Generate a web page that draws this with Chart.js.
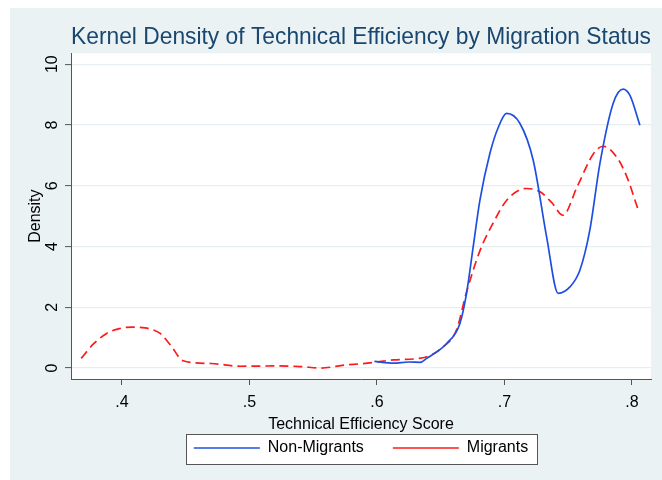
<!DOCTYPE html>
<html lang="en">
<head>
<meta charset="UTF-8">
<title>Kernel Density of Technical Efficiency by Migration Status</title>
<script src="https://cdn.jsdelivr.net/npm/chart.js"></script>
<style>
  html, body { margin: 0; padding: 0; background: #fff; overflow: hidden; }
  canvas { display: block; }
</style>
</head>
<body>
<canvas id="kdChart" width="662" height="480"></canvas>
<script>
// kernel density estimates
const nonMigrantScore = [0.598, 0.613, 0.625, 0.634, 0.639, 0.6547, 0.6651, 0.6703, 0.6755, 0.6808, 0.6886,
    0.695, 0.7017, 0.7122, 0.7226, 0.7331, 0.7422, 0.7514, 0.7592, 0.767, 0.7749, 0.7853, 0.7931, 0.7984, 0.8063];
const nonMigrantDensity = [0.22, 0.16, 0.20, 0.19, 0.32, 0.81, 1.47, 2.46, 3.99, 5.53, 7.06,
    7.9, 8.38, 8.05, 6.84, 4.32, 2.46, 2.67, 3.22, 4.54, 6.73, 8.71, 9.18, 8.98, 7.99];

const migrantScore = [0.368, 0.378, 0.388, 0.398, 0.408, 0.418, 0.425, 0.430, 0.438, 0.448, 0.47, 0.493,
    0.52, 0.54, 0.556, 0.575, 0.587, 0.60, 0.613, 0.636, 0.652, 0.6625, 0.670, 0.681, 0.691, 0.702,
    0.717, 0.728, 0.737, 0.746, 0.757, 0.770, 0.7775, 0.788, 0.796, 0.805];
const migrantDensity = [0.32, 0.81, 1.14, 1.30, 1.35, 1.32, 1.25, 1.14, 0.76, 0.24, 0.15, 0.06,
    0.07, 0.05, 0.0, 0.1, 0.14, 0.2, 0.27, 0.34, 0.7, 1.26, 2.46, 3.88, 4.76, 5.53,
    5.91, 5.8, 5.45, 5.03, 5.96, 7.06, 7.3, 6.95, 6.3, 5.2];

const xTicks = [0.4, 0.5, 0.6, 0.7, 0.8];
const xTickLabels = ['.4', '.5', '.6', '.7', '.8'];
const yTicks = [0, 2, 4, 6, 8, 10];
const yTickLabels = ['0', '2', '4', '6', '8', '10'];

const FONT = '"Liberation Sans", Arial, Helvetica, sans-serif';

function toPoints(xs, ys) {
    return xs.map((x, i) => ({ x: x, y: ys[i] }));
}

// light Stata-like backdrop, white plot region and the legend frame
const backdrop = {
    id: 'backdrop',
    beforeDraw(chart) {
        const { ctx, width, height, chartArea: a } = chart;
        ctx.save();
        ctx.fillStyle = '#ffffff';
        ctx.fillRect(0, 0, width, height);
        ctx.fillStyle = '#eaf2f3';
        ctx.fillRect(10, 8, width - 10, height - 8);
        ctx.fillStyle = '#ffffff';
        ctx.fillRect(a.left, a.top, a.right - a.left, a.bottom - a.top);

        const lg = chart.legend;
        const pad = lg.options.labels.padding;
        const w = lg.lineWidths[0] - pad;
        const cx = (lg.left + lg.right) / 2;
        const x0 = Math.round(cx - w / 2 - 8) + 0.5;
        const x1 = Math.round(cx + w / 2 + 9) + 0.5;
        const y0 = Math.round(lg.top + pad - 6) + 0.5;
        const y1 = Math.round(lg.top + pad + 16 + 8) + 0.5;
        ctx.fillStyle = '#ffffff';
        ctx.fillRect(x0, y0, x1 - x0, y1 - y0);
        ctx.strokeStyle = '#555555';
        ctx.lineWidth = 1;
        ctx.strokeRect(x0, y0, x1 - x0, y1 - y0);
        ctx.restore();
    }
};

const ctx = document.getElementById('kdChart').getContext('2d');
new Chart(ctx, {
    type: 'line',
    data: {
        datasets: [{
            label: 'Non-Migrants',
            data: toPoints(nonMigrantScore, nonMigrantDensity),
            borderColor: '#1f4fe0',
            borderWidth: 1.7,
            pointRadius: 0,
            fill: false,
            cubicInterpolationMode: 'monotone'
        }, {
            label: 'Migrants',
            data: toPoints(migrantScore, migrantDensity),
            borderColor: '#ff1a1a',
            borderWidth: 1.7,
            borderDash: [9, 5],
            pointRadius: 0,
            fill: false,
            cubicInterpolationMode: 'monotone'
        }]
    },
    options: {
        responsive: false,
        animation: false,
        layout: { padding: { left: 10, right: 11, top: 8, bottom: 14 } },
        plugins: {
            title: {
                display: true,
                fullSize: false,
                text: 'Kernel Density of Technical Efficiency by Migration Status',
                color: '#1a476f',
                font: { family: FONT, size: 23.4, weight: 'normal' },
                padding: { top: 15.6, bottom: 1.6 }
            },
            legend: {
                position: 'bottom',
                fullSize: false,
                labels: {
                    color: '#000',
                    font: { family: FONT, size: 16 },
                    usePointStyle: true,
                    pointStyle: 'line',
                    pointStyleWidth: 66,
                    padding: 29
                }
            },
            tooltip: { enabled: false }
        },
        scales: {
            x: {
                type: 'linear',
                min: 0.36,
                max: 0.815,
                afterBuildTicks: s => { s.ticks = xTicks.map(v => ({ value: v })); },
                afterFit: s => { s.height = 32; },
                ticks: {
                    color: '#000',
                    font: { family: FONT, size: 16 },
                    padding: 8,
                    maxRotation: 0,
                    callback: (v, i) => xTickLabels[i]
                },
                grid: { drawOnChartArea: false, tickLength: 6, color: '#555', lineWidth: 1 },
                border: { color: '#555', width: 1 },
                title: {
                    display: true,
                    text: 'Technical Efficiency Score',
                    color: '#000',
                    font: { family: FONT, size: 16 },
                    padding: { top: 0, bottom: -23 }
                }
            },
            y: {
                type: 'linear',
                min: -0.36,
                max: 10.36,
                afterBuildTicks: s => { s.ticks = yTicks.map(v => ({ value: v })); },
                afterFit: s => { s.width = 61; },
                ticks: {
                    color: '#000',
                    font: { family: FONT, size: 16 },
                    padding: 4,
                    minRotation: 90,
                    maxRotation: 90,
                    crossAlign: 'center',
                    callback: (v, i) => yTickLabels[i]
                },
                grid: { color: '#e6eef1', lineWidth: 1.2, tickLength: 6, tickColor: '#555', tickWidth: 1 },
                border: { color: '#555', width: 1 },
                title: {
                    display: true,
                    text: 'Density',
                    color: '#000',
                    font: { family: FONT, size: 16 },
                    padding: { top: 16.4, bottom: 0 }
                }
            }
        }
    },
    plugins: [backdrop]
});
</script>
</body>
</html>
